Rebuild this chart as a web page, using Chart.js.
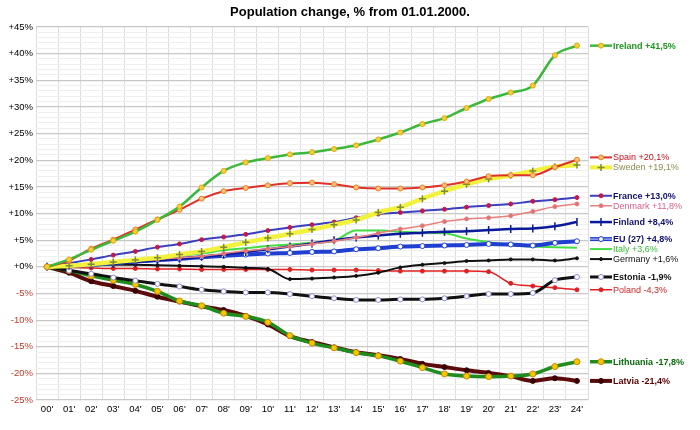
<!DOCTYPE html>
<html>
<head>
<meta charset="utf-8">
<title>Population change</title>
<script src="https://cdn.jsdelivr.net/npm/chart.js@4.4.1/dist/chart.umd.min.js"></script>
<style>
  body { margin: 0; background: #fff; }
  #wrap { width: 700px; height: 430px; }
</style>
</head>
<body>
<div id="wrap"><canvas id="popChart" width="700" height="430"></canvas></div>
<script>
// years on the x axis
const years = ["00'", "01'", "02'", "03'", "04'", "05'", "06'", "07'", "08'", "09'", "10'", "11'", "12'",
               "13'", "14'", "15'", "16'", "17'", "18'", "19'", "20'", "21'", "22'", "23'", "24'"];

// labelled y ticks (%)
const yMajor = [-25, -20, -15, -10, -5, 0, 5, 10, 15, 20, 25, 30, 35, 40, 45];

// % change from 01.01.2000
const ireland   = [0, 1.4, 3.2, 4.9, 6.6, 8.8, 11.3, 14.9, 18.0, 19.6, 20.4, 21.1, 21.5, 22.1, 22.8, 23.9, 25.2, 26.8, 27.9, 29.8, 31.5, 32.7, 34.0, 39.7, 41.5];
const spain     = [0, 1.2, 3.4, 5.1, 7.0, 8.9, 10.7, 12.8, 14.2, 14.8, 15.3, 15.7, 15.8, 15.5, 14.9, 14.7, 14.7, 14.9, 15.3, 16.0, 17.0, 17.2, 17.2, 18.7, 20.1];
const sweden    = [0, 0.2, 0.5, 0.9, 1.3, 1.7, 2.3, 2.9, 3.7, 4.6, 5.4, 6.2, 7.0, 7.9, 8.8, 10.2, 11.2, 12.8, 14.2, 15.5, 16.5, 17.2, 18.0, 18.8, 19.1];
const france    = [0, 0.7, 1.4, 2.2, 2.9, 3.7, 4.3, 5.1, 5.6, 6.1, 6.8, 7.4, 7.9, 8.4, 9.2, 9.9, 10.2, 10.5, 10.8, 11.2, 11.5, 11.8, 12.3, 12.6, 13.0];
const denmark   = [0, 0.3, 0.6, 0.9, 1.2, 1.4, 1.7, 2.0, 2.5, 3.0, 3.4, 3.8, 4.3, 4.8, 5.5, 6.3, 7.1, 7.7, 8.5, 9.0, 9.2, 9.6, 10.4, 11.3, 11.8];
const finland   = [0, 0.2, 0.4, 0.6, 0.9, 1.2, 1.5, 1.9, 2.3, 2.8, 3.3, 3.8, 4.4, 5.0, 5.5, 5.9, 6.2, 6.4, 6.6, 6.7, 6.9, 7.1, 7.2, 7.6, 8.4];
const eu27      = [0, 0.2, 0.4, 0.7, 1.0, 1.3, 1.5, 1.8, 2.1, 2.3, 2.5, 2.6, 2.8, 2.9, 3.3, 3.5, 3.8, 3.9, 4.0, 4.1, 4.3, 4.2, 4.0, 4.5, 4.8];
const italy     = [0, 0.1, 0.2, 0.5, 1.0, 1.6, 2.1, 2.5, 3.1, 3.5, 3.9, 4.2, 4.5, 4.9, 6.8, 6.8, 6.6, 6.4, 6.3, 5.3, 4.6, 4.1, 3.8, 3.7, 3.6];
const germany   = [0, 0.1, 0.3, 0.4, 0.4, 0.3, 0.2, 0.1, 0.0, -0.2, -0.4, -2.3, -2.2, -2.0, -1.7, -1.1, -0.1, 0.4, 0.7, 1.1, 1.2, 1.4, 1.4, 1.2, 1.6];
const estonia   = [0, -0.7, -1.3, -2.0, -2.6, -3.2, -3.7, -4.3, -4.6, -4.8, -4.8, -5.1, -5.5, -5.9, -6.2, -6.2, -6.1, -6.1, -5.9, -5.5, -5.1, -5.1, -4.9, -2.5, -1.9];
const poland    = [0, -0.1, -0.2, -0.3, -0.3, -0.4, -0.4, -0.5, -0.5, -0.5, -0.5, -0.5, -0.6, -0.6, -0.6, -0.7, -0.8, -0.8, -0.8, -0.8, -0.9, -3.1, -3.6, -3.9, -4.3];
const lithuania = [0, -0.7, -1.7, -2.5, -3.3, -4.6, -6.4, -7.3, -8.7, -9.3, -10.4, -12.9, -14.3, -15.2, -16.1, -16.7, -17.7, -18.9, -20.1, -20.5, -20.6, -20.5, -20.1, -18.7, -17.8];
const latvia    = [0, -1.1, -2.7, -3.6, -4.5, -5.6, -6.5, -7.4, -8.1, -9.2, -10.8, -13.0, -14.1, -15.1, -16.0, -16.6, -17.3, -18.2, -18.8, -19.4, -19.9, -20.5, -21.4, -20.9, -21.4];

const FONT = "Arial, 'Liberation Sans', sans-serif";
Chart.defaults.font.family = FONT;

// one line per country
function series(name, data, o) {
  return {
    label: name,
    data: data,
    borderColor: o.color,
    backgroundColor: o.pointFill || o.color,
    borderWidth: o.width || 2,
    pointRadius: o.radius === undefined ? 2 : o.radius,
    pointStyle: o.pointStyle || 'circle',
    pointRotation: o.rotation || 0,
    pointBorderColor: o.pointBorder || o.color,
    pointBorderWidth: o.pointBorderWidth || 1,
    cubicInterpolationMode: 'monotone',
    textColor: o.text,
    bold: !!o.bold,
    inner: !!o.inner
  };
}

const datasets = [
  series('Ireland', ireland, { color: '#3cb83c', width: 2.5, radius: 2.5, pointFill: '#f4d03f', pointBorder: '#e0a800', text: '#1f9a1f', bold: true }),
  series('Spain', spain, { color: '#e0302a', width: 2, radius: 2.5, pointFill: '#f8c471', pointBorder: '#e67e22', text: '#c0101a' }),
  series('Sweden', sweden, { color: '#f2f23c', width: 4.5, radius: 3.5, pointStyle: 'cross', pointBorder: '#7d8c3c', pointBorderWidth: 1.5, text: '#8c8c50' }),
  series('France', france, { color: '#3a3fbf', width: 2, radius: 2, pointFill: '#c0184a', pointBorder: '#c0184a', text: '#101070', bold: true }),
  series('Denmark', denmark, { color: '#e88080', width: 1.5, radius: 2, pointFill: '#e07070', text: '#e0608a' }),
  series('Finland', finland, { color: '#0a1a9a', width: 2.5, radius: 4, pointStyle: 'line', rotation: 90, pointBorderWidth: 1.5, text: '#101070', bold: true }),
  series('EU (27)', eu27, { color: '#1f3fd0', width: 4, radius: 2.5, pointFill: '#ffffff', pointBorder: '#1f3fd0', text: '#101070', bold: true }),
  series('EU (27)', eu27, { color: '#c4ccff', width: 1.1, radius: 0, inner: true }),
  series('Italy', italy, { color: '#44dd44', width: 2, radius: 0, text: '#33bb33' }),
  series('Germany', germany, { color: '#111111', width: 2, radius: 1.5, text: '#111111' }),
  series('Estonia', estonia, { color: '#111111', width: 3, radius: 2.5, pointFill: '#ffffff', pointBorder: '#8a8ad8', text: '#111111', bold: true }),
  series('Poland', poland, { color: '#e02020', width: 1.5, radius: 2, text: '#d42020' }),
  series('Lithuania', lithuania, { color: '#1e8c1e', width: 3.5, radius: 3, pointFill: '#f7c600', pointBorder: '#c88a00', text: '#0a6a0a', bold: true }),
  series('Latvia', latvia, { color: '#5c0a0a', width: 4, radius: 2.5, pointFill: '#3a0000', pointBorder: '#3a0000', text: '#5c0000', bold: true })
];

function pct(v) {
  const s = v.toFixed(1).replace('.', ',');
  return (v >= 0 ? '+' : '') + s + '%';
}

// title + end labels on the right side
const sideLabels = {
  id: 'sideLabels',
  afterDraw(chart) {
    const ctx = chart.ctx;
    const y = chart.scales.y;
    ctx.save();
    ctx.font = 'bold 13px ' + FONT;
    ctx.fillStyle = '#000';
    ctx.textAlign = 'center';
    ctx.textBaseline = 'middle';
    ctx.fillText('Population change, % from 01.01.2000.', chart.width / 2, 12);

    const items = [];
    chart.data.datasets.forEach((ds, i) => {
      if (ds.inner) return;
      const last = ds.data[ds.data.length - 1];
      items.push({ ds: ds, i: i, y: y.getPixelForValue(last), last: last });
    });
    items.sort((a, b) => a.y - b.y);
    const minGap = 10;
    for (let it = 0; it < 60; it++) {
      for (let k = 1; k < items.length; k++) {
        const gap = items[k].y - items[k - 1].y;
        if (gap < minGap) {
          const d = (minGap - gap) / 2;
          items[k - 1].y -= d;
          items[k].y += d;
        }
      }
    }

    const x0 = chart.chartArea.right + 2, x1 = x0 + 22;
    items.forEach(item => {
      const ds = item.ds;
      ctx.strokeStyle = ds.borderColor;
      ctx.lineWidth = Math.min(ds.borderWidth, 4);
      ctx.beginPath();
      ctx.moveTo(x0, item.y);
      ctx.lineTo(x1, item.y);
      ctx.stroke();
      if (ds.label === 'EU (27)') {
        ctx.strokeStyle = '#c4ccff';
        ctx.lineWidth = 1.1;
        ctx.beginPath();
        ctx.moveTo(x0, item.y);
        ctx.lineTo(x1, item.y);
        ctx.stroke();
      }
      if (ds.pointRadius > 0) {
        ctx.fillStyle = ds.backgroundColor;
        ctx.strokeStyle = ds.pointBorderColor;
        ctx.lineWidth = ds.pointBorderWidth;
        Chart.helpers.drawPoint(ctx, {
          pointStyle: ds.pointStyle,
          radius: ds.pointRadius,
          rotation: ds.pointRotation,
          borderWidth: ds.pointBorderWidth
        }, (x0 + x1) / 2, item.y);
      }
      ctx.font = (ds.bold ? 'bold ' : '') + '9px ' + FONT;
      ctx.fillStyle = ds.textColor;
      ctx.textAlign = 'left';
      ctx.textBaseline = 'middle';
      ctx.fillText(ds.label + ' ' + pct(item.last), x1 + 1, item.y + 0.5);
    });
    ctx.restore();
  }
};

new Chart(document.getElementById('popChart'), {
  type: 'line',
  data: { labels: years, datasets: datasets },
  options: {
    responsive: false,
    animation: false,
    layout: { padding: { top: 27, right: 112, bottom: 10.5, left: 0 } },
    plugins: {
      legend: { display: false },
      tooltip: { enabled: false },
      title: { display: false }
    },
    scales: {
      x: {
        offset: true,
        grid: { offset: true, color: '#dddddd', lineWidth: 1, drawTicks: false },
        border: { display: false },
        ticks: {
          autoSkip: false, maxRotation: 0, padding: 4,
          color: '#000', font: { size: 9.5 }
        }
      },
      y: {
        min: -25,
        max: 45,
        afterFit(scale) { scale.width = 36; },
        grid: {
          drawTicks: false,
          color: ctx => yMajor.includes(ctx.tick.value) ? '#c8c8c8' : '#efefef',
          lineWidth: ctx => yMajor.includes(ctx.tick.value) ? 1.3 : 1
        },
        border: { display: false },
        ticks: {
          stepSize: 1,
          autoSkip: false,
          padding: 3,
          font: { size: 9.5 },
          color: ctx => ctx.tick.value < 0 ? '#c0392b' : '#000',
          callback: v => yMajor.includes(v) ? (v >= 0 ? '+' : '') + v + '%' : ''
        }
      }
    }
  },
  plugins: [sideLabels]
});
</script>
</body>
</html>
